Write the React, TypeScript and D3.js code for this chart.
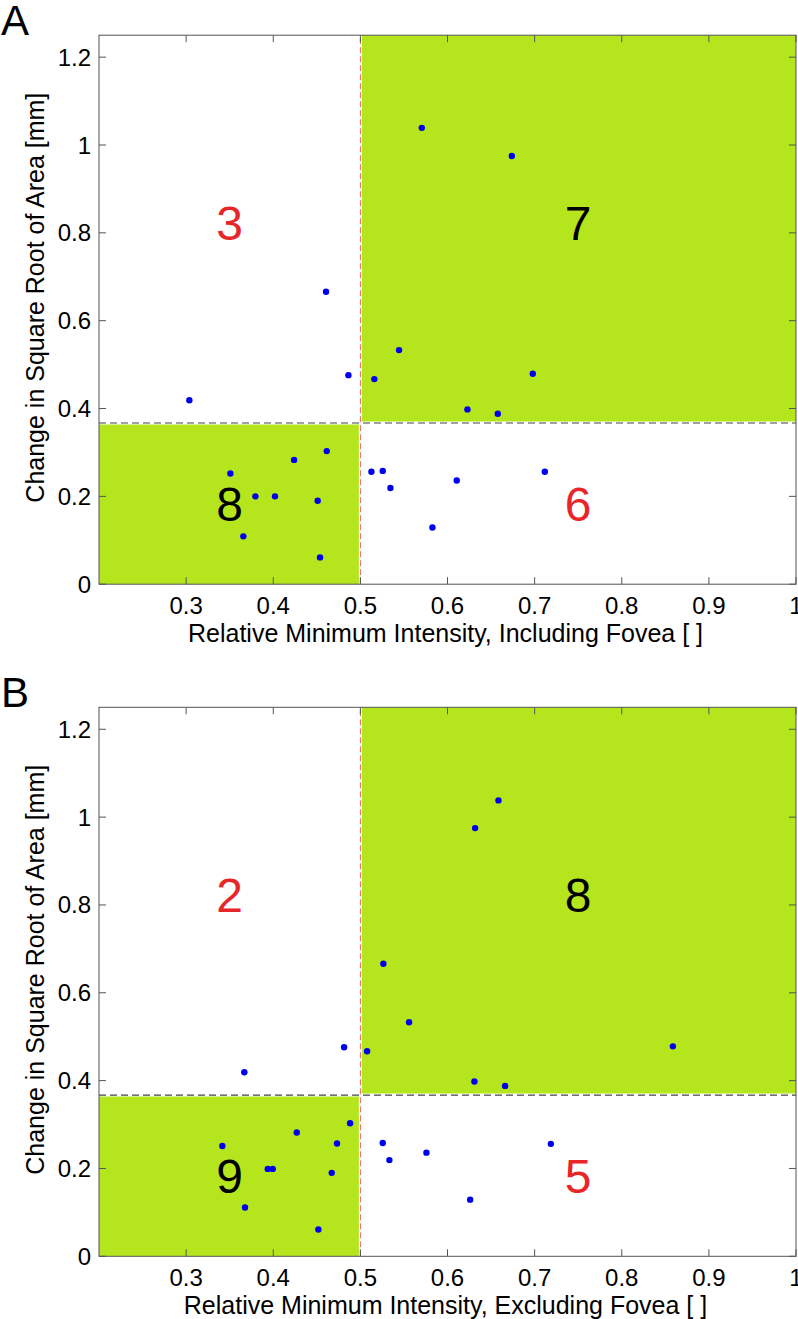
import React, { useEffect, useRef } from 'react';
import * as d3 from 'd3';

// Panel A: relative minimum intensity including fovea
const includingX = [0.5705, 0.6738, 0.516, 0.5444, 0.6979, 0.6229, 0.6577, 0.4606, 0.4863, 0.3037, 0.4614, 0.4239, 0.3508, 0.3795, 0.402, 0.451, 0.3657, 0.4537, 0.5127, 0.5257, 0.5345, 0.6106, 0.7117, 0.5827];
const includingY = [1.039, 0.975, 0.467, 0.533, 0.479, 0.398, 0.388, 0.666, 0.476, 0.419, 0.303, 0.283, 0.252, 0.2, 0.2, 0.19, 0.109, 0.061, 0.256, 0.258, 0.219, 0.236, 0.256, 0.129];

// Panel B: relative minimum intensity excluding fovea
const excludingX = [0.5264, 0.6585, 0.6317, 0.5077, 0.5559, 0.8587, 0.6309, 0.6661, 0.4813, 0.3668, 0.4882, 0.427, 0.3416, 0.4732, 0.3937, 0.3994, 0.4671, 0.3676, 0.4518, 0.5257, 0.5333, 0.5758, 0.7186, 0.626];
const excludingY = [0.666, 1.038, 0.975, 0.467, 0.533, 0.478, 0.398, 0.388, 0.476, 0.419, 0.303, 0.282, 0.251, 0.257, 0.199, 0.199, 0.19, 0.111, 0.061, 0.258, 0.219, 0.236, 0.256, 0.129];

// Counts per quadrant: upper-left, upper-right, lower-left, lower-right
const includingCounts = [3, 7, 8, 6];
const excludingCounts = [2, 8, 9, 5];

const xThreshold = 0.5;
const yThreshold = 0.367;

const xTicks = [0.3, 0.4, 0.5, 0.6, 0.7, 0.8, 0.9, 1];
const xTickLabels = ['0.3', '0.4', '0.5', '0.6', '0.7', '0.8', '0.9', '1'];
const yTicks = [0, 0.2, 0.4, 0.6, 0.8, 1, 1.2];
const yTickLabels = ['0', '0.2', '0.4', '0.6', '0.8', '1', '1.2'];

const panels = [
  { letter: 'A', xs: includingX, ys: includingY, counts: includingCounts, top: 35.2, xLabel: 'Relative Minimum Intensity, Including Fovea [ ]' },
  { letter: 'B', xs: excludingX, ys: excludingY, counts: excludingCounts, top: 707.3, xLabel: 'Relative Minimum Intensity, Excluding Fovea [ ]' },
];

const font = "Arial, 'Liberation Sans', sans-serif";
const green = '#b5e61d';

const App = () => {
  const ref = useRef<SVGSVGElement>(null);

  useEffect(() => {
    const svg = d3.select(ref.current);
    svg.selectAll('*').remove();

    const left = 99;
    const right = 796;
    const plotHeight = 549;

    panels.forEach((p) => {
      const g = svg.append('g');
      const x = d3.scaleLinear().domain([0.2, 1]).range([left, right]);
      const y = d3.scaleLinear().domain([0, 1.25]).range([p.top + plotHeight, p.top]);

      // green quadrants
      g.append('rect')
        .attr('x', x(xThreshold)).attr('y', y(1.25))
        .attr('width', x(1) - x(xThreshold)).attr('height', y(yThreshold) - y(1.25))
        .attr('fill', green);
      g.append('rect')
        .attr('x', x(0.2)).attr('y', y(yThreshold))
        .attr('width', x(xThreshold) - x(0.2)).attr('height', y(0) - y(yThreshold))
        .attr('fill', green);

      // white gaps under the threshold lines
      g.append('line')
        .attr('x1', x(0.2)).attr('x2', x(1))
        .attr('y1', y(yThreshold)).attr('y2', y(yThreshold))
        .attr('stroke', '#fff').attr('stroke-width', 3);
      g.append('line')
        .attr('x1', x(xThreshold)).attr('x2', x(xThreshold))
        .attr('y1', y(0)).attr('y2', y(1.25))
        .attr('stroke', '#fff').attr('stroke-width', 3);

      // threshold lines
      g.append('line')
        .attr('x1', x(0.2)).attr('x2', x(1))
        .attr('y1', y(yThreshold)).attr('y2', y(yThreshold))
        .attr('stroke', '#444').attr('stroke-width', 1.2)
        .attr('stroke-dasharray', '7,4');
      g.append('line')
        .attr('x1', x(xThreshold)).attr('x2', x(xThreshold))
        .attr('y1', y(0)).attr('y2', y(1.25))
        .attr('stroke', '#e8655f').attr('stroke-width', 1)
        .attr('stroke-dasharray', '6,3');

      // points
      g.selectAll('circle.pt')
        .data(p.xs)
        .enter()
        .append('circle')
        .attr('class', 'pt')
        .attr('cx', (d) => x(d))
        .attr('cy', (_, i) => y(p.ys[i]))
        .attr('r', 3.2)
        .attr('fill', '#0000f0');

      // quadrant counts
      const upperY = (yThreshold + 1.28) / 2;
      const lowerY = yThreshold / 2;
      const leftX = (0.2 + xThreshold) / 2;
      const rightX = (xThreshold + 1) / 2;
      const spots = [
        { cx: leftX, cy: upperY, color: '#e8262a' },
        { cx: rightX, cy: upperY, color: '#000' },
        { cx: leftX, cy: lowerY, color: '#000' },
        { cx: rightX, cy: lowerY, color: '#e8262a' },
      ];
      g.selectAll('text.count')
        .data(p.counts)
        .enter()
        .append('text')
        .attr('class', 'count')
        .attr('x', (_, i) => x(spots[i].cx))
        .attr('y', (_, i) => y(spots[i].cy) + 17)
        .attr('text-anchor', 'middle')
        .attr('font-family', font)
        .attr('font-size', 48)
        .attr('fill', (_, i) => spots[i].color)
        .text((d) => d);

      // axes box
      g.append('rect')
        .attr('x', x(0.2)).attr('y', y(1.25))
        .attr('width', x(1) - x(0.2)).attr('height', y(0) - y(1.25))
        .attr('fill', 'none').attr('stroke', '#555').attr('stroke-width', 1);

      // ticks (inward, all four sides)
      const tickLen = 7;
      xTicks.forEach((t, i) => {
        g.append('line')
          .attr('x1', x(t)).attr('x2', x(t))
          .attr('y1', y(0)).attr('y2', y(0) - tickLen)
          .attr('stroke', '#555');
        g.append('line')
          .attr('x1', x(t)).attr('x2', x(t))
          .attr('y1', y(1.25)).attr('y2', y(1.25) + tickLen)
          .attr('stroke', '#555');
        g.append('text')
          .attr('x', x(t)).attr('y', y(0) + 30)
          .attr('text-anchor', 'middle')
          .attr('font-family', font).attr('font-size', 24)
          .attr('fill', '#000')
          .text(xTickLabels[i]);
      });
      yTicks.forEach((t, i) => {
        g.append('line')
          .attr('x1', x(0.2)).attr('x2', x(0.2) + tickLen)
          .attr('y1', y(t)).attr('y2', y(t))
          .attr('stroke', '#555');
        g.append('line')
          .attr('x1', x(1)).attr('x2', x(1) - tickLen)
          .attr('y1', y(t)).attr('y2', y(t))
          .attr('stroke', '#555');
        g.append('text')
          .attr('x', x(0.2) - 8).attr('y', y(t) + 8.5)
          .attr('text-anchor', 'end')
          .attr('font-family', font).attr('font-size', 24)
          .attr('fill', '#000')
          .text(yTickLabels[i]);
      });

      // axis labels
      g.append('text')
        .attr('x', (left + right) / 2 - 2).attr('y', y(0) + 58)
        .attr('text-anchor', 'middle')
        .attr('font-family', font).attr('font-size', 25)
        .attr('fill', '#000')
        .text(p.xLabel);
      const midY = p.top + plotHeight / 2 - 12;
      g.append('text')
        .attr('transform', `translate(44, ${midY}) rotate(-90)`)
        .attr('text-anchor', 'middle')
        .attr('font-family', font).attr('font-size', 25)
        .attr('fill', '#000')
        .text('Change in Square Root of Area [mm]');

      // panel letter
      g.append('text')
        .attr('x', 1).attr('y', p.top)
        .attr('font-family', font).attr('font-size', 42)
        .attr('fill', '#000')
        .text(p.letter);
    });
  }, []);

  return (
    <svg
      ref={ref}
      width={798}
      height={1319}
      style={{ position: 'absolute', left: 0, top: 0, background: '#fff' }}
    />
  );
};

export default App;
